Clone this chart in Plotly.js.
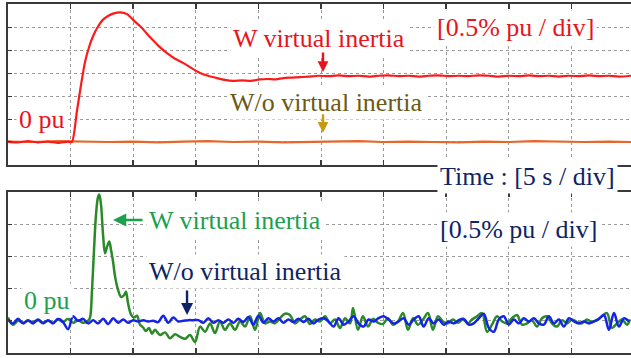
<!DOCTYPE html>
<html>
<head>
<meta charset="utf-8">
<script src="https://cdn.plot.ly/plotly-3.0.1.min.js"></script>
<style>
  html, body { margin: 0; padding: 0; background: #ffffff; }
  #chart { width: 631px; height: 358px; }
</style>
</head>
<body>
<div id="chart"></div>
<script>
// ---- Upper panel: frequency deviation, % pu vs time (s) ----
const timeRed = [0.0, 0.8, 1.6, 2.4, 3.2, 4.0, 4.8,
  5.11, 5.51, 5.83, 6.15, 6.47, 6.79, 7.19, 7.59, 7.99, 8.39, 8.95, 9.51, 9.98,
  10.62, 11.34, 11.98, 12.70, 13.34, 13.98, 14.70, 15.34, 15.98, 16.69, 17.33, 17.97,
  18.7, 19.4, 20.1, 20.7, 21.4, 22.0, 22.7, 23.3,
  24.0, 24.8, 25.6, 26.4, 27.2, 28.0, 28.8, 29.6, 30.4, 31.2,
  32.0, 32.8, 33.6, 34.4, 35.2, 36.0, 36.8, 37.6, 38.4, 39.2,
  40.0, 40.8, 41.6, 42.4, 43.2, 44.0, 44.8, 45.6, 46.4, 47.2,
  48.0, 48.8, 49.76];
const wRedPu = [0.01, -0.01, 0.02, -0.01, 0.01, -0.02, 0.01,
  0.00, 0.68, 1.24, 1.74, 2.06, 2.30, 2.51, 2.66, 2.74, 2.79, 2.82, 2.78, 2.66,
  2.50, 2.28, 2.10, 1.93, 1.81, 1.72, 1.60, 1.50, 1.44, 1.39, 1.35, 1.33,
  1.34, 1.33, 1.36, 1.37, 1.36, 1.39, 1.40, 1.41,
  1.42, 1.44, 1.43, 1.45, 1.43, 1.44, 1.42, 1.44, 1.45, 1.43,
  1.44, 1.42, 1.44, 1.45, 1.43, 1.44, 1.43, 1.45, 1.44, 1.42,
  1.44, 1.43, 1.45, 1.43, 1.44, 1.42, 1.44, 1.43, 1.45, 1.43,
  1.44, 1.42, 1.44];

const timeOrange = [0, 2, 4, 6, 8, 10, 12, 14, 16, 18, 20, 22, 24, 26, 28, 30,
  32, 34, 36, 38, 40, 42, 44, 46, 48, 49.76];
const woOrangePu = [0.01, 0.00, 0.02, 0.01, 0.00, 0.01, -0.01, 0.01, 0.02, 0.00,
  0.01, -0.01, 0.00, 0.01, 0.02, 0.00, 0.01, 0.00, -0.01, 0.01,
  0.00, 0.02, 0.01, 0.00, 0.01, 0.00];

// ---- Lower panel: power deviation, % pu vs time (s) ----
const timeGreen = [0, 0.4, 0.8, 1.2, 1.6, 2.0, 2.4, 2.8, 3.2, 3.6, 4.0, 4.4, 4.8, 5.2, 5.6, 6.0, 6.4,
  6.55, 6.71, 6.87, 7.03, 7.19, 7.29, 7.43, 7.59, 7.75, 7.91,
  8.09, 8.23, 8.39, 8.55, 8.79, 9.03, 9.27, 9.42, 9.58, 9.82,
  10.06, 10.30, 10.54, 10.78, 11.02, 11.26, 11.50, 11.74, 12.14, 12.54,
  12.94, 13.34, 13.74, 14.14, 14.54, 14.94, 15.34, 15.74, 16.14, 16.53,
  16.93, 17.33, 17.73, 18.13, 18.53, 18.93, 19.33, 19.73, 20.13, 20.53,
  20.93, 21.32, 21.72, 22.12, 22.52, 22.92, 23.32, 23.72,
  24.12, 24.52, 24.92, 25.32, 25.72, 26.12, 26.52, 26.92, 27.32, 27.56,
  27.95, 28.35, 28.75, 29.15, 29.55, 29.95, 30.35, 30.75, 31.15, 31.55,
  31.95, 32.35, 32.75, 33.15, 33.55, 33.94, 34.34, 34.74, 35.14, 35.54,
  35.94, 36.34, 36.74, 37.06, 37.46, 37.86, 38.26, 38.66, 39.06, 39.46,
  39.86, 40.25, 40.65, 41.05, 41.45, 41.85, 42.25, 42.65, 43.05, 43.45,
  43.85, 44.25, 44.65, 45.05, 45.45, 45.84, 46.24, 46.64, 47.04, 47.44,
  47.84, 48.24, 48.64, 49.04, 49.44, 49.68];
const wGreenPu = [0.05, -0.06, 0.00, -0.03, 0.00, -0.02, 0.01, -0.04, 0.00, -0.03, 0.02, -0.02, 0.03, -0.03, 0.01, -0.03, 0.00,
  0.05, 0.48, 1.10, 1.65, 1.92, 1.96, 1.80, 1.34, 1.05, 1.15,
  1.23, 1.10, 0.92, 0.69, 0.48, 0.37, 0.40, 0.45, 0.28, 0.10,
  0.05, 0.08, -0.06, -0.10, -0.16, -0.11, -0.20, -0.14, -0.22, -0.18,
  -0.27, -0.21, -0.25, -0.28, -0.22, -0.33, -0.09, -0.17, -0.04, -0.19,
  -0.01, -0.14, -0.04, -0.14, -0.01, -0.09, 0.07, -0.14, 0.12, -0.04,
  -0.01, -0.04, 0.04, 0.11, 0.09, -0.04, 0.02, 0.07,
  -0.05, 0.02, -0.01, 0.07, -0.04, 0.02, -0.11, 0.04, -0.04, 0.20,
  -0.14, 0.07, -0.09, 0.03, -0.03, -0.05, 0.04, -0.06, -0.01, 0.12,
  -0.14, 0.04, -0.06, 0.02, 0.12, -0.14, 0.07, -0.01, -0.04, 0.02,
  -0.03, 0.02, -0.04, 0.02, 0.07, 0.12, -0.17, -0.06, 0.07, -0.01,
  -0.04, 0.04, 0.09, -0.06, -0.04, 0.01, -0.09, 0.04, 0.07, -0.04,
  -0.09, 0.01, -0.04, 0.02, -0.02, -0.04, 0.02, -0.02, 0.01, 0.07,
  0.12, -0.11, -0.04, 0.02, -0.06, 0.02];

// Blue trace is sampled on an even 0.4 s clock starting at 0 s
const blueStart = 0;
const blueStep = 0.4;
const woBluePu = [0.02, -0.04, 0.03, -0.04, 0.01, -0.04, 0.02, -0.03, 0.01, -0.04,
  0.03, -0.02, -0.13, 0.07, 0.00, 0.03, -0.04, 0.01, -0.04, 0.03,
  -0.05, 0.04, -0.03, 0.02, -0.03, 0.01, -0.01, 0.01, -0.01, 0.00,
  -0.02, 0.08, -0.03, 0.05, -0.01, 0.00, 0.01, 0.01, 0.01, -0.03,
  0.04, -0.03, 0.01, -0.03, 0.02, -0.03, 0.03, -0.02, 0.06, -0.06,
  0.08, -0.03, 0.04, -0.01, 0.04, -0.03, 0.02, -0.02, 0.03, -0.02,
  0.03, -0.04, 0.02, 0.04, -0.01, -0.09, 0.04, -0.06, -0.01, 0.07,
  -0.04, -0.09, 0.02, -0.01, 0.04, 0.07, 0.02, -0.04, -0.01, 0.04,
  -0.06, 0.02, 0.07, -0.09, 0.04, -0.04, 0.02, -0.06, -0.01, -0.04,
  0.01, 0.03, -0.06, -0.04, 0.04, 0.11, -0.11, -0.17, 0.02, 0.07,
  -0.06, 0.02, -0.04, 0.04, -0.01, 0.04, -0.04, -0.06, 0.07, -0.04,
  0.02, -0.09, 0.04, -0.01, -0.04, -0.01, -0.04, -0.01, 0.03, 0.09,
  -0.14, 0.12, -0.09, 0.04, -0.01];

const serif = 'Liberation Serif, "Times New Roman", serif';
const RED = '#e8141c', OLIVE = '#6b5a16', GOLD = '#c79a12', NAVY = '#0e2466', GREEN_TXT = '#1d9f4c';

const traces = [
  { x: timeOrange, y: woOrangePu, xaxis: 'x', yaxis: 'y', mode: 'lines',
    line: { color: '#e4672c', width: 2.2 }, hoverinfo: 'skip' },
  { x: timeRed, y: wRedPu, xaxis: 'x', yaxis: 'y', mode: 'lines',
    line: { color: '#ff1a1a', width: 2.2, shape: 'spline', smoothing: 0.6 }, hoverinfo: 'skip' },
  { x: timeGreen, y: wGreenPu, xaxis: 'x2', yaxis: 'y2', mode: 'lines',
    line: { color: '#2a8a28', width: 2.5, shape: 'spline', smoothing: 1 }, hoverinfo: 'skip' },
  { x0: blueStart, dx: blueStep, y: woBluePu, xaxis: 'x2', yaxis: 'y2', mode: 'lines',
    line: { color: '#1424e6', width: 2.5, shape: 'spline', smoothing: 1 }, hoverinfo: 'skip' }
];

const xCommon = {
  range: [0, 49.76], dtick: 5, tick0: 0,
  showgrid: true, gridcolor: '#9a9a9a', griddash: 'dot', gridwidth: 1,
  showline: true, linecolor: '#3a3a3a', linewidth: 2, mirror: 'ticks',
  ticks: 'inside', ticklen: 5, tickcolor: '#3a3a3a', tickwidth: 1.5,
  showticklabels: false, zeroline: false, fixedrange: true
};
const yCommon = {
  dtick: 0.5, tick0: 0,
  showgrid: true, gridcolor: '#9a9a9a', griddash: 'dot', gridwidth: 1,
  showline: true, linecolor: '#3a3a3a', linewidth: 2,
  ticks: 'inside', ticklen: 4, tickcolor: '#3a3a3a', tickwidth: 1,
  showticklabels: false, zeroline: false, fixedrange: true
};

function label(xref, yref, x, y, text, color) {
  return { xref, yref, x, y, text, showarrow: false, xanchor: 'left', yanchor: 'middle',
    font: { family: serif, size: 26, color }, bgcolor: '#ffffff', borderpad: 2 };
}
function arrow(xref, yref, x, y, ax, ay, color, size) {
  return { xref, yref, x, y, ax, ay, text: '', showarrow: true,
    arrowhead: 2, arrowsize: size, arrowwidth: 2.4, arrowcolor: color };
}

const layout = {
  width: 631, height: 358,
  margin: { l: 8, r: 0, t: 4, b: 5 },
  paper_bgcolor: '#ffffff', plot_bgcolor: '#ffffff',
  showlegend: false,
  xaxis: Object.assign({}, xCommon, { anchor: 'y' }),
  yaxis: Object.assign({}, yCommon, { range: [-0.5, 3.0], domain: [0.5387, 1], anchor: 'x' }),
  xaxis2: Object.assign({}, xCommon, { anchor: 'y2' }),
  yaxis2: Object.assign({}, yCommon, { range: [-0.5, 2.0], domain: [0, 0.4613], anchor: 'x2' }),
  annotations: [
    label('x', 'y', 17.75, 2.24, 'W virtual inertia', RED),
    label('x', 'y', 34.05, 2.50, '[0.5% pu / div]', RED),
    arrow('x', 'y', 25.16, 1.52, 0, -21, RED, 0.9),
    label('x', 'y', 17.5, 0.85, 'W/o virtual inertia', OLIVE),
    arrow('x', 'y', 25.16, 0.20, 0, -20, GOLD, 0.9),
    label('x', 'y', 0.6, 0.50, '0 pu', RED),
    label('x', 'paper', 34.3, 0.507, 'Time : [5 s / div]', NAVY),
    arrow('x2', 'y2', 8.39, 1.565, 31, 0, GREEN_TXT, 1.1),
    label('x2', 'y2', 11.0, 1.55, 'W virtual inertia', GREEN_TXT),
    label('x2', 'y2', 34.3, 1.41, '[0.5% pu / div]', NAVY),
    label('x2', 'y2', 11.0, 0.76, 'W/o virtual inertia', NAVY),
    arrow('x2', 'y2', 14.30, 0.09, 0, -26, NAVY, 1.0),
    label('x2', 'y2', 1.0, 0.32, '0 pu', GREEN_TXT)
  ]
};

Plotly.newPlot('chart', traces, layout, { staticPlot: true, displayModeBar: false });
</script>
</body>
</html>
